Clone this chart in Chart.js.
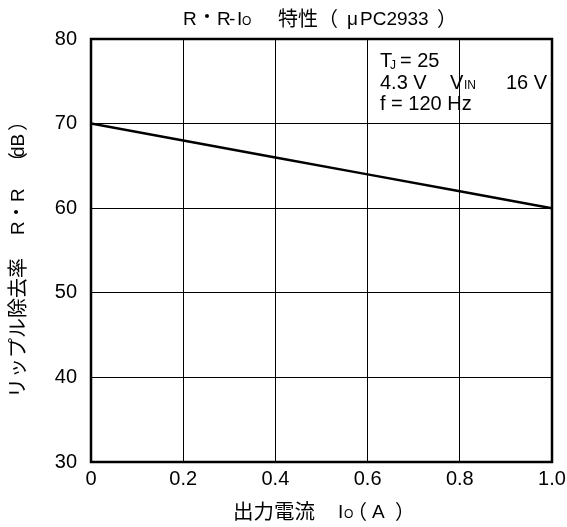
<!DOCTYPE html>
<html><head><meta charset="utf-8">
<script src="https://cdn.jsdelivr.net/npm/chart.js@4"></script>
<style>html,body{margin:0;padding:0;background:#fff}#wrap{width:567px;height:527px}</style>
</head><body><div id="wrap"><canvas id="c"></canvas></div>
<script>
const currentA = [0, 0.2, 0.4, 0.6, 0.8, 1.0];
const rrDb = [70, 68, 66, 64, 62, 60];
const xTicks = ['0', '0.2', '0.4', '0.6', '0.8', '1.0'];
const yTicks = ['30', '40', '50', '60', '70', '80'];

const LAT = '"Liberation Sans", Arial, sans-serif';
const CJK = '"Noto Sans CJK JP", sans-serif';

function t(ctx, text, x, y, size, fam, align) {
  ctx.font = size + 'px ' + (fam || LAT);
  ctx.textAlign = align || 'left';
  ctx.fillText(text, x, y);
}

const textPlugin = {
  id: 'texts',
  afterDraw(chart) {
    const ctx = chart.ctx, a = chart.chartArea;
    ctx.save();
    ctx.strokeStyle = '#000';
    ctx.lineWidth = 2.5;
    ctx.strokeRect(a.left, a.top, a.right - a.left, a.bottom - a.top);
    ctx.fillStyle = '#000';
    ctx.textBaseline = 'alphabetic';
    // title
    const ty = 25;
    t(ctx, 'R', 183, ty, 19);
    t(ctx, '・', 207, ty - 1, 19, CJK, 'center');
    t(ctx, 'R', 217, ty, 19);
    t(ctx, '-', 229, ty, 19);
    t(ctx, 'I', 237, ty, 19);
    t(ctx, 'O', 242, ty, 12);
    t(ctx, '特性', 278, ty + 1, 20, CJK);
    t(ctx, '（', 318, ty + 1, 20, CJK);
    t(ctx, 'μ', 347, ty, 19);
    t(ctx, 'PC2933', 360, ty, 19);
    t(ctx, '）', 437, ty + 1, 20, CJK);
    // x title
    const xy = 518;
    t(ctx, '出力電流', 233, xy + 1, 20.5, CJK);
    t(ctx, 'I', 338, xy, 19);
    t(ctx, 'O', 344, xy, 12);
    t(ctx, '（', 347, xy + 1, 20, CJK);
    t(ctx, 'A', 372, xy, 19);
    t(ctx, '）', 395, xy + 1, 20, CJK);
    // y title rotated
    ctx.save();
    ctx.translate(25, 0);
    ctx.rotate(-Math.PI / 2);
    t(ctx, 'リップル除去率', -398, 0, 20, CJK);
    t(ctx, 'R', -235, -1, 19);
    t(ctx, '・', -212, -1, 19, CJK, 'center');
    t(ctx, 'R', -202, -1, 19);
    t(ctx, '（', -172, 0, 20, CJK);
    t(ctx, 'dB', -157, -1, 19);
    t(ctx, '）', -131, 0, 20, CJK);
    ctx.restore();
    // annotation
    t(ctx, 'T', 380, 67, 20);
    t(ctx, 'J', 390, 69, 12);
    t(ctx, '= 25', 400, 67, 20);
    t(ctx, '4.3 V', 380, 89, 20);
    t(ctx, 'V', 450, 89, 20);
    t(ctx, 'IN', 464, 89, 12);
    t(ctx, '16 V', 506, 89, 20);
    t(ctx, 'f = 120 Hz', 380, 110, 20);
    ctx.restore();
  }
};

new Chart(document.getElementById('c'), {
  type: 'line',
  data: {
    datasets: [{
      data: currentA.map((x, i) => ({ x: x, y: rrDb[i] })),
      borderColor: '#000',
      borderWidth: 2.5,
      pointRadius: 0,
      tension: 0,
      fill: false
    }]
  },
  options: {
    responsive: true,
    maintainAspectRatio: false,
    animation: false,
    layout: { padding: { left: 0, right: 15, top: 39, bottom: 0 } },
    plugins: { legend: { display: false }, tooltip: { enabled: false }, title: { display: false } },
    scales: {
      x: {
        type: 'linear', min: 0, max: 1, offset: false,
        afterFit(s) { s.height = 65; s.paddingLeft = 0; s.paddingRight = 0; },
        afterBuildTicks(s) { s.ticks = currentA.map(v => ({ value: v })); },
        ticks: {
          padding: 5, color: '#000', maxRotation: 0, autoSkip: false,
          font: { size: 20, family: LAT },
          callback: (v, i) => xTicks[i]
        },
        grid: { color: '#000', lineWidth: 1, drawTicks: false },
        border: { display: false }
      },
      y: {
        type: 'linear', min: 30, max: 80,
        afterFit(s) { s.width = 91; s.paddingTop = 0; s.paddingBottom = 0; },
        afterBuildTicks(s) { s.ticks = yTicks.map(v => ({ value: +v })); },
        ticks: {
          padding: 14, color: '#000', autoSkip: false,
          font: { size: 20, family: LAT },
          callback: (v, i) => yTicks[i]
        },
        grid: { color: '#000', lineWidth: 1, drawTicks: false },
        border: { display: false }
      }
    }
  },
  plugins: [textPlugin]
});
</script></body></html>
